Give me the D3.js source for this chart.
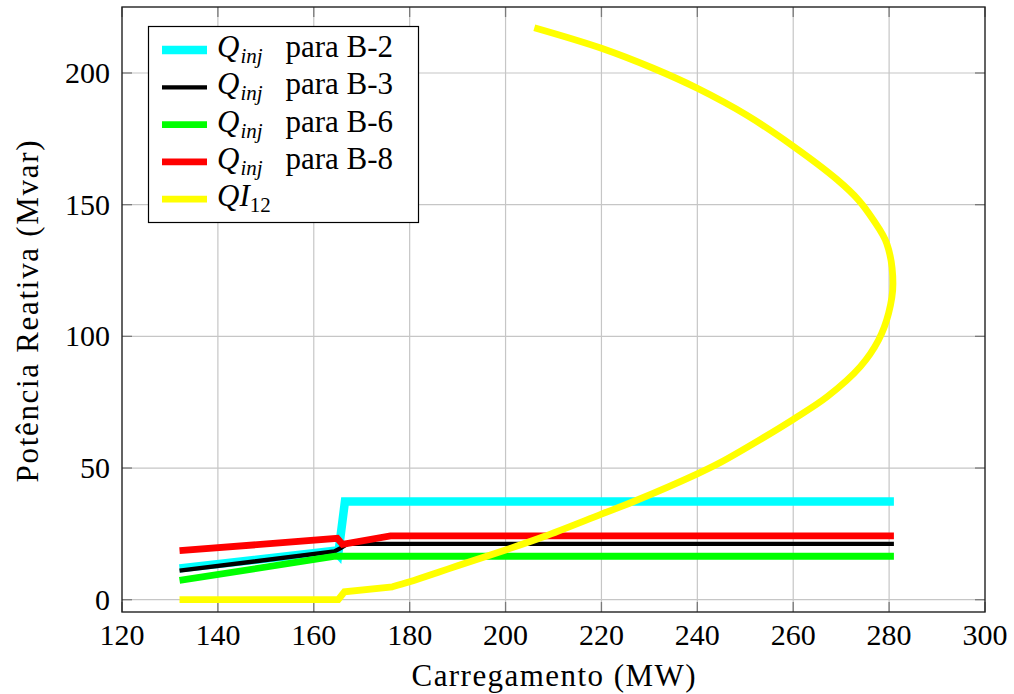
<!DOCTYPE html>
<html>
<head>
<meta charset="utf-8">
<script src="https://cdn.jsdelivr.net/npm/d3@7"></script>
<style>
  html, body { margin: 0; padding: 0; background: #fff; }
</style>
</head>
<body>
<svg id="chart" width="1014" height="694" font-family="Liberation Serif, DejaVu Serif, serif"></svg>
<script>
// Carregamento (MW) vs. potência reativa (Mvar)
const xTicks = [120, 140, 160, 180, 200, 220, 240, 260, 280, 300];
const yTicks = [0, 50, 100, 150, 200];

const cargaB2 = [132, 164.4, 165.1, 166.5, 281];
const qB2     = [11.9, 18.6, 17.2, 37.3, 37.3];

const cargaB3 = [132, 164.3, 165.6, 167, 281];
const qB3     = [11.0, 18.3, 19.6, 21.2, 21.2];

const cargaB6 = [132, 164.5, 281];
const qB6     = [7.3, 16.5, 16.5];

const cargaB8 = [132, 164.9, 166.0, 176.0, 281];
const qB8     = [18.6, 23.3, 21.0, 24.2, 24.2];

const cargaQI12 = [132, 165.1, 166.4, 176.4, 180, 186.3, 190, 200, 207.9, 220, 226.6, 240,
                   244.7, 253.1, 260.1, 267.1, 274.0, 277.8, 279.9, 280.8, 279.5, 276.7, 273.6,
                   269.1, 260, 250.3, 240, 230.8, 220, 206];
const qQI12     = [0, 0, 3.0, 4.9, 6.8, 10.6, 12.9, 18.9, 23.9, 32.5, 37.2, 47.8,
                   52.0, 60.8, 68.6, 77.1, 88.5, 98.6, 108.8, 120.1, 135.3, 144.2, 151.8,
                   159.6, 172.2, 184.0, 194.2, 201.8, 209.4, 217.2];
// the first few points are joined by straight segments, the rest by a smooth curve
const qi12Straight = 4;

const series = [
  { label: "B-2", x: cargaB2, y: qB2, color: "#00ffff", width: 8.5 },
  { label: "B-3", x: cargaB3, y: qB3, color: "#000000", width: 4.3 },
  { label: "B-6", x: cargaB6, y: qB6, color: "#00ff00", width: 6.8 },
  { label: "B-8", x: cargaB8, y: qB8, color: "#ff0000", width: 6.8 },
  { label: "QI12", x: cargaQI12, y: qQI12, color: "#ffff00", width: 6.8, straight: qi12Straight }
];

const FONT = "Liberation Serif, DejaVu Serif, serif";
const pLeft = 122, pRight = 985, pTop = 7, pBottom = 612;
const svg = d3.select("#chart");

const x = d3.scaleLinear().domain([120, 300]).range([pLeft, pRight]);
const y = d3.scaleLinear().domain([-4.67, 225.06]).range([pBottom, pTop]);

// grid
const grid = svg.append("g").attr("stroke", "#c6c6c6").attr("stroke-width", 1.2);
grid.selectAll("line.vx").data(xTicks.slice(1, -1)).join("line")
  .attr("x1", d => x(d)).attr("x2", d => x(d)).attr("y1", pTop).attr("y2", pBottom);
grid.selectAll("line.hy").data(yTicks).join("line")
  .attr("x1", pLeft).attr("x2", pRight).attr("y1", d => y(d)).attr("y2", d => y(d));

// tick marks on all four sides, pointing inward
const tickLen = 10;
const tk = svg.append("g").attr("stroke", "#7a7a7a").attr("stroke-width", 1.3);
xTicks.forEach(v => {
  tk.append("line").attr("x1", x(v)).attr("x2", x(v)).attr("y1", pBottom).attr("y2", pBottom - tickLen);
  tk.append("line").attr("x1", x(v)).attr("x2", x(v)).attr("y1", pTop).attr("y2", pTop + tickLen);
});
yTicks.forEach(v => {
  tk.append("line").attr("x1", pLeft).attr("x2", pLeft + tickLen).attr("y1", y(v)).attr("y2", y(v));
  tk.append("line").attr("x1", pRight).attr("x2", pRight - tickLen).attr("y1", y(v)).attr("y2", y(v));
});

// curves
svg.append("clipPath").attr("id", "plotclip")
  .append("rect").attr("x", pLeft).attr("y", pTop).attr("width", pRight - pLeft).attr("height", pBottom - pTop);
const plot = svg.append("g").attr("clip-path", "url(#plotclip)");
const straightLine = d3.line().x(d => x(d[0])).y(d => y(d[1]));
const smoothLine = d3.line().x(d => x(d[0])).y(d => y(d[1])).curve(d3.curveCatmullRom.alpha(0.5));
series.forEach(s => {
  const pts = s.x.map((v, i) => [v, s.y[i]]);
  let d;
  if (s.straight) {
    const head = straightLine(pts.slice(0, s.straight - 1));
    const tail = smoothLine(pts.slice(s.straight - 1)).replace(/^M/, "L");
    d = head + tail;
  } else {
    d = straightLine(pts);
  }
  plot.append("path")
    .attr("d", d)
    .attr("fill", "none")
    .attr("stroke", s.color)
    .attr("stroke-width", s.width)
    .attr("stroke-linejoin", "miter")
    .attr("stroke-miterlimit", 10);
});

// frame
svg.append("rect").attr("x", pLeft).attr("y", pTop).attr("width", pRight - pLeft).attr("height", pBottom - pTop)
  .attr("fill", "none").attr("stroke", "#222").attr("stroke-width", 1.4);

// tick labels
const labels = svg.append("g").attr("font-size", 30).attr("fill", "#000").attr("font-family", FONT);
xTicks.forEach(v => {
  labels.append("text").attr("x", x(v)).attr("y", 645).attr("text-anchor", "middle").text(v);
});
yTicks.forEach(v => {
  labels.append("text").attr("x", 110).attr("y", y(v) + 10).attr("text-anchor", "end").text(v);
});

// axis titles
svg.append("text")
  .attr("font-family", FONT)
  .attr("x", (pLeft + pRight) / 2).attr("y", 686)
  .attr("text-anchor", "middle").attr("font-size", 31)
  .attr("textLength", 284).attr("lengthAdjust", "spacing")
  .text("Carregamento (MW)");

svg.append("text")
  .attr("font-family", FONT)
  .attr("transform", `translate(38, ${(pTop + pBottom) / 2 + 2}) rotate(-90)`)
  .attr("text-anchor", "middle").attr("font-size", 31)
  .attr("textLength", 342).attr("lengthAdjust", "spacing")
  .text("Potência Reativa (Mvar)");

// legend
const lg = svg.append("g").attr("font-family", FONT);
lg.append("rect").attr("x", 148.5).attr("y", 26.5).attr("width", 270).attr("height", 196)
  .attr("fill", "#fff").attr("stroke", "#000").attr("stroke-width", 1.2);
const rowY = [50, 87.3, 124.6, 161.9, 199.2];
series.forEach((s, i) => {
  const cy = rowY[i];
  lg.append("line").attr("x1", 162).attr("x2", 207).attr("y1", cy).attr("y2", cy)
    .attr("stroke", s.color).attr("stroke-width", s.width);
  const t = lg.append("text").attr("x", 217).attr("y", cy + 7).attr("font-size", 31);
  if (s.label === "QI12") {
    t.append("tspan").attr("font-style", "italic").text("QI");
    t.append("tspan").attr("font-size", 21).attr("dy", 6).text("12");
  } else {
    t.append("tspan").attr("font-style", "italic").text("Q");
    t.append("tspan").attr("font-style", "italic").attr("font-size", 21).attr("dy", 6).attr("dx", 1).text("inj");
    t.append("tspan").attr("dy", -6).attr("x", 285.5).text("para " + s.label);
  }
});
</script>
</body>
</html>
